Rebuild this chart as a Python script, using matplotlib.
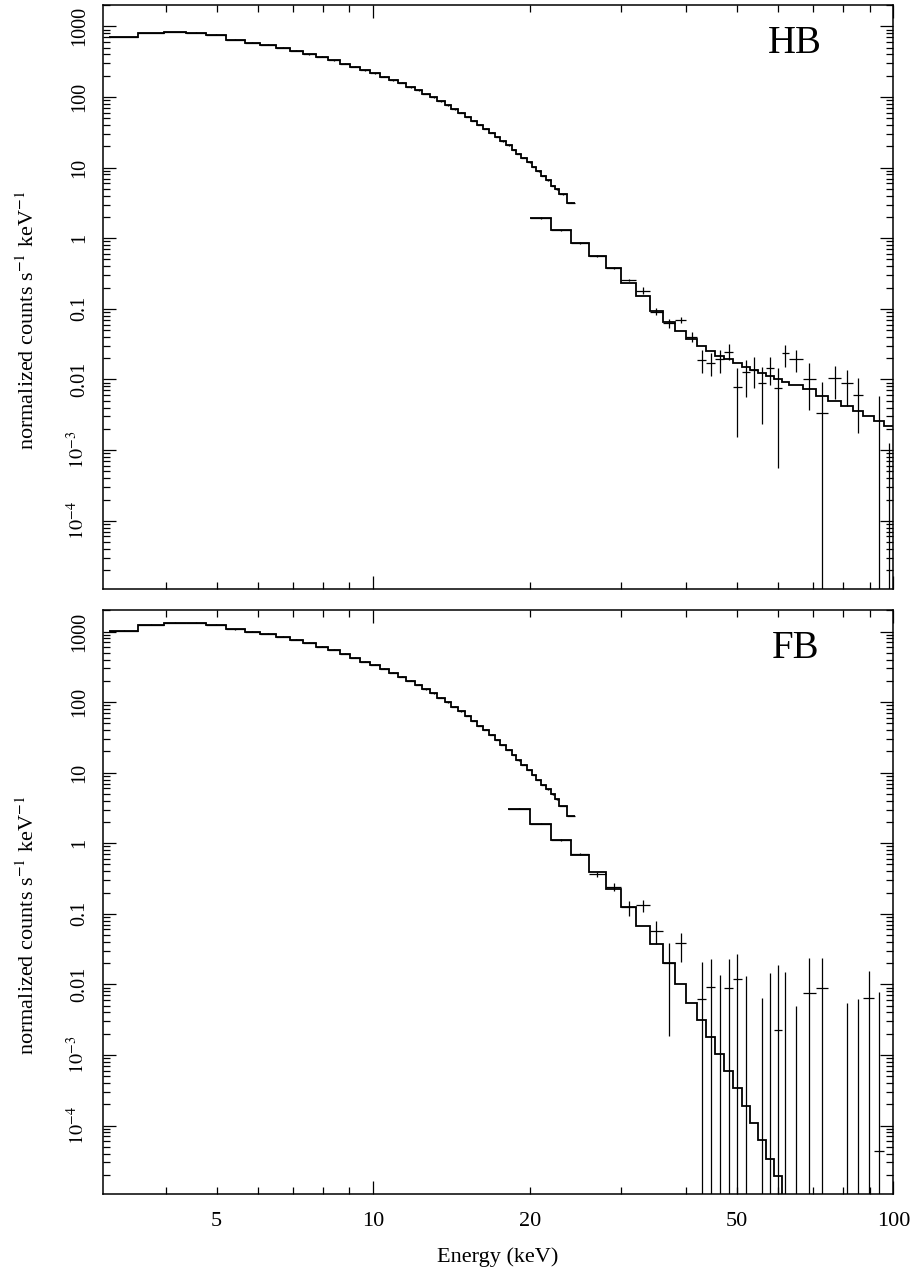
import numpy as np
import matplotlib
matplotlib.use('Agg')
import matplotlib.pyplot as plt
from matplotlib.ticker import FixedLocator, FuncFormatter, LogLocator

plt.rcParams['font.family'] = ['Liberation Serif', 'DejaVu Serif']
plt.rcParams['mathtext.fontset'] = 'stix'

# PCA-like channel edges (keV), same for both states
pca_edges = [3.11, 3.53, 3.97, 4.37, 4.78, 5.22, 5.66, 6.05, 6.49, 6.91,
             7.33, 7.75, 8.19, 8.62, 9.04, 9.45, 9.88, 10.29, 10.72, 11.16,
             11.58, 12.02, 12.43, 12.88, 13.27, 13.73, 14.14, 14.56, 15.0, 15.44,
             15.83, 16.26, 16.70, 17.14, 17.53, 18.01, 18.45, 18.86, 19.28, 19.76,
             20.20, 20.60, 21.06, 21.47, 21.93, 22.37, 22.77, 23.60, 24.42]

hb_pca = [706, 804, 830, 813, 762, 649, 588, 551, 500, 448,
          402, 368, 330, 293, 266, 239, 216, 194, 172, 158,
          138, 124, 110, 99, 87, 76.3, 67.0, 59.4, 52.1, 45.8,
          40.7, 35.3, 31.3, 27.2, 23.6, 20.7, 18.0, 15.8, 13.7, 11.9,
          10.2, 8.89, 7.63, 6.58, 5.51, 4.90, 4.21, 3.17]

fb_pca = [1033, 1245, 1342, 1342, 1245, 1081, 1000, 927, 849, 770,
          698, 613, 550, 483, 428, 375, 337, 296, 262, 230,
          200, 175, 152, 134, 116, 99, 86.3, 73.8, 63.7, 54.7,
          46.5, 40.4, 34.3, 29.1, 24.7, 21.0, 17.8, 15.1, 12.9, 10.9,
          9.27, 7.87, 6.69, 5.82, 4.94, 4.20, 3.37, 2.43]

# HEXTE-like bins
hb_hx_edges = [20, 22, 24, 26, 28, 30, 32, 34, 36, 38, 40, 42, 43.7, 45.5, 47.3,
               49.2, 51.1, 53, 55, 57, 59, 61, 63, 67, 71, 75, 79.5, 83.5, 87.5,
               92, 96, 100]
fb_hx_edges = [18.2] + hb_hx_edges

hb_hx_model = [1.94, 1.29, 0.853, 0.564, 0.374, 0.234, 0.152, 0.094, 0.065, 0.0485,
               0.0374, 0.0301, 0.0255, 0.0217, 0.0193, 0.0169, 0.0149, 0.0136, 0.0125,
               0.0112, 0.0101, 0.00922, 0.00828, 0.00727, 0.0059, 0.00501, 0.00426,
               0.00362, 0.00308, 0.00261, 0.0022]
# data value, lower and upper end of error bar (1e-7 / 1e-8 = below the plot)
hb_hx_data = [1.94, 1.29, 0.853, 0.564, 0.374, 0.255, 0.180, 0.091, 0.0636, 0.0695,
              0.0395, 0.0189, 0.0173, 0.0193, 0.0247, 0.00776, 0.0129, 0.0136, 0.00883,
              0.0147, 0.0075, 0.0235, 0.0193, 0.01026, 0.00333, 0.0104, 0.0090,
              0.00604, np.nan, 1e-7, 1e-7]
hb_hx_lo = [1.90, 1.26, 0.83, 0.55, 0.362, 0.245, 0.162, 0.0817, 0.054, 0.0624,
            0.0343, 0.0125, 0.0112, 0.0125, 0.0189, 0.00155, 0.00571, 0.0075, 0.00234,
            0.00835, 0.000555, 0.0152, 0.0129, 0.00371, 1e-8, 0.00525, 0.00422,
            0.00177, np.nan, 1e-8, 1e-8]
hb_hx_hi = [1.98, 1.32, 0.876, 0.58, 0.386, 0.265, 0.201, 0.1016, 0.071, 0.0773,
            0.0474, 0.0261, 0.0235, 0.0261, 0.0318, 0.0144, 0.0189, 0.0206, 0.0152,
            0.021, 0.0144, 0.0308, 0.0261, 0.0169, 0.0093, 0.0155, 0.0136,
            0.0104, np.nan, 0.00585, 0.00128]

fb_hx_model = [3.08, 1.89, 1.12, 0.681, 0.386, 0.222, 0.123, 0.0669, 0.0368, 0.0198,
               0.00997, 0.00547, 0.0031, 0.0018, 0.00102, 5.93e-4, 3.40e-4, 1.91e-4,
               1.09e-4, 6.17e-5, 3.39e-5, 1.9e-5, 8e-6, 4.5e-6, 1.5e-6, 5e-7, 1.5e-7,
               5e-8, 1.6e-8, 5e-9, 1.5e-9, 5e-10]
fb_hx_data = [3.08, 1.89, 1.12, 0.695, 0.366, 0.237, 0.123, 0.133, 0.0574, 0.0198,
              0.038, np.nan, 0.00611, 0.00912, 1e-7, 0.00875, 0.01186, 1e-7,
              np.nan, 1e-7, 1e-7, 0.00229, 1e-7, 1e-7, 0.00757, 0.00875, np.nan,
              1e-7, 1e-7, 0.00644, 4.3e-5, np.nan]
fb_hx_lo = [3.02, 1.85, 1.09, 0.672, 0.335, 0.212, 0.0927, 0.105, 0.0372, 0.00184,
            0.0209, np.nan, 1e-8, 1e-8, 1e-8, 1e-8, 1e-8, 1e-8,
            np.nan, 1e-8, 1e-8, 1e-8, 1e-8, 1e-8, 1e-8, 1e-8, np.nan,
            1e-8, 1e-8, 1e-8, 1e-8, np.nan]
fb_hx_hi = [3.14, 1.93, 1.15, 0.72, 0.394, 0.270, 0.153, 0.156, 0.0796, 0.0388,
            0.0537, np.nan, 0.0205, 0.0226, 0.0135, 0.0227, 0.0268, 0.0132,
            np.nan, 0.00644, 0.0146, 0.0187, 0.0148, 0.00491, 0.0233, 0.0233, np.nan,
            0.00536, 0.00611, 0.0155, 0.00767, np.nan]

y_labels = {1000: '1000', 100: '100', 10: '10', 1: '1', 0.1: '0.1', 0.01: '0.01',
            1e-3: r'$10^{-3}$', 1e-4: r'$10^{-4}$'}
x_labelled = [5, 10, 20, 50, 100]


def cross(ax, edges, data, lo, hi):
    edges = np.array(edges)
    data = np.array(data, dtype=float)
    lo = np.array(lo, dtype=float)
    hi = np.array(hi, dtype=float)
    cen = np.sqrt(edges[:-1] * edges[1:])
    ok = ~np.isnan(data)
    xe = [cen[ok] - edges[:-1][ok], edges[1:][ok] - cen[ok]]
    ye = [data[ok] - lo[ok], hi[ok] - data[ok]]
    ax.errorbar(cen[ok], data[ok], xerr=xe, yerr=ye, fmt='none',
                ecolor='k', elinewidth=0.9, capsize=0)


def panel(ax, pca, hx_edges, hx_model, hx_data, hx_lo, hx_hi, name, bottom):
    pca = np.array(pca, dtype=float)
    # low energy data sits on the model, tiny errors
    cross(ax, pca_edges, pca, pca * 0.985, pca * 1.015)
    ax.stairs(pca, pca_edges, baseline=None, color='k', lw=1.3)
    cross(ax, hx_edges, hx_data, hx_lo, hx_hi)
    ax.stairs(hx_model, hx_edges, baseline=None, color='k', lw=1.3)

    ax.set_xscale('log')
    ax.set_yscale('log')
    ax.set_xlim(3.02, 100)
    ax.set_ylim(1.07e-5, 2020)

    ax.xaxis.set_major_locator(FixedLocator([10, 100]))
    ax.xaxis.set_minor_locator(FixedLocator([4, 5, 6, 7, 8, 9, 20, 30, 40, 50, 60, 70, 80, 90]))
    fmt = FuncFormatter(lambda v, p: ('%g' % v) if round(v) in x_labelled else '')
    ax.xaxis.set_major_formatter(fmt)
    ax.xaxis.set_minor_formatter(fmt)

    ax.yaxis.set_major_locator(LogLocator(base=10, numticks=20))
    ax.yaxis.set_minor_locator(LogLocator(base=10, subs=np.arange(2, 10), numticks=20))
    ax.yaxis.set_major_formatter(FuncFormatter(
        lambda v, p: next((s for k, s in y_labels.items() if abs(np.log10(v) - np.log10(k)) < 0.01), '')))

    ax.tick_params(which='both', direction='in', top=True, right=True, width=0.9, color='k')
    ax.tick_params(which='major', length=9.5)
    ax.tick_params(which='minor', length=5)
    ax.tick_params(axis='x', which='both', labelsize=16, pad=13, labelbottom=bottom)
    ax.tick_params(axis='y', which='major', labelsize=14.5, pad=10)
    for t in ax.get_yticklabels():
        t.set_rotation(90)
        t.set_va('center')
    for s in ax.spines.values():
        s.set_linewidth(1.1)

    ax.set_ylabel('normalized counts s$^{-1}$ keV$^{-1}$', fontsize=16)
    ax.yaxis.set_label_coords(-0.08, 0.46)
    ax.text(0.876, 0.934, name, transform=ax.transAxes, fontsize=28,
            ha='center', va='center')


fig = plt.figure(figsize=(9.12, 12.74), dpi=100)
ax1 = fig.add_axes([0.1126, 0.5374, 0.8669, 0.4589])
ax2 = fig.add_axes([0.1126, 0.0628, 0.8669, 0.4584])

panel(ax1, hb_pca, hb_hx_edges, hb_hx_model, hb_hx_data, hb_hx_lo, hb_hx_hi, 'HB', False)
panel(ax2, fb_pca, fb_hx_edges, fb_hx_model, fb_hx_data, fb_hx_lo, fb_hx_hi, 'FB', True)
ax2.set_xlabel('Energy (keV)', fontsize=16, labelpad=12)

fig.savefig('out.png', dpi=100)
